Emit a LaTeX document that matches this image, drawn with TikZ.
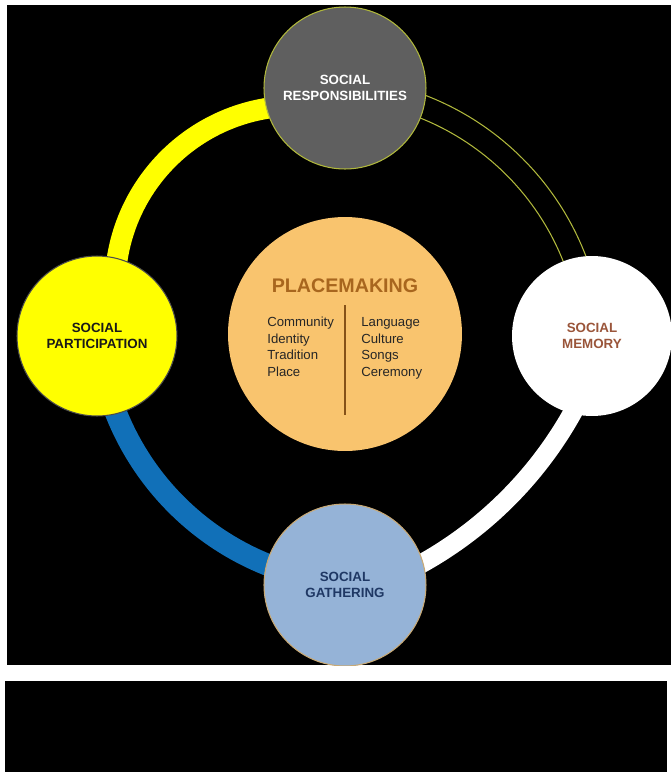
\documentclass[tikz,border=0pt]{standalone}
\usepackage{fontspec}
\setmainfont{Liberation Sans}
\definecolor{respgray}{HTML}{5F5F5F}
\definecolor{partyellow}{HTML}{FFFF00}
\definecolor{gathblue}{HTML}{95B3D7}
\definecolor{ringblue}{HTML}{1170B8}
\definecolor{placeorange}{HTML}{F9C46E}
\definecolor{placebrown}{HTML}{A8661E}
\definecolor{memorybrown}{HTML}{9A553A}
\definecolor{gathnavy}{HTML}{1F3864}
\definecolor{olivegreen}{HTML}{B0B83C}

\begin{document}
\begin{tikzpicture}[x=0.02cm, y=0.02cm,
    every node/.style={font=\bfseries\fontsize{7.6}{8.8}\selectfont, align=center},
    social/.style={circle, minimum size=3.24cm, inner sep=0pt},
    listtxt/.style={font=\fontsize{7.5}{9}\selectfont, anchor=base west, inner sep=0pt, text=black!85},
    band/.style={line cap=butt}]

\useasboundingbox (-345,-436) rectangle (326,336);
\fill[white] (-345,-436) rectangle (326,336);
\fill[black] (-338,-329) rectangle (326,331);
\fill[black] (-340,-345) rectangle (322,-436);

\begin{scope}
\clip (-338,-329) rectangle (326,331);
\coordinate (ycen) at (-49,49);
\coordinate (bcen) at (23.7,23.7);
\coordinate (wcen) at (-113.5,113.5);
\coordinate (ocen) at (-20.2,-20.2);

\draw[band, partyellow, line width=0.42cm] (ycen) ++(95:181) arc (95:175:181);
\draw[band, ringblue, line width=0.44cm] (bcen) ++(200:272) arc (200:250:272);
\draw[band, white, line width=0.38cm] (wcen) ++(-27:390.5) arc (-27:-63:390.5);
\draw[olivegreen, line width=0.6pt] (ocen) ++(18:256.6) arc (18:72:256.6);
\draw[olivegreen, line width=0.6pt] (ocen) ++(18:279.6) arc (18:72:279.6);

\node[social, fill=respgray, draw=olivegreen, line width=0.6pt, text=white] (resp) at (0,248) {SOCIAL\\RESPONSIBILITIES};
\node[social, fill=partyellow, draw=black!70, line width=0.6pt, minimum size=3.2cm, text=black!90] (part) at (-248,0) {SOCIAL\\PARTICIPATION};
\node[social, fill=white, minimum size=3.2cm, text=memorybrown] (mem) at (247,0) {SOCIAL\\MEMORY};
\node[social, fill=gathblue, draw=placeorange!60!gray, line width=0.6pt, text=gathnavy] (gath) at (0,-249) {SOCIAL\\GATHERING};

\node[circle, fill=placeorange, minimum size=4.68cm, inner sep=0pt] (place) at (0,2) {};
\node[anchor=base, inner sep=0pt, text=placebrown, font=\bfseries\fontsize{11.2}{12}\selectfont] (title) at (0,44) {PLACEMAKING};
\draw[placebrown!80!black, line width=0.6pt] (0,31) coordinate (divtop) -- (0,-79) coordinate (divbot);

\foreach \w [count=\i] in {Community,Identity,Tradition,Place}
  \node[listtxt] (left\i) at (-78,{9.3-(\i-1)*16.5}) {\w};
\foreach \w [count=\i] in {Language,Culture,Songs,Ceremony}
  \node[listtxt] (right\i) at (16,{9.3-(\i-1)*16.5}) {\w};
\end{scope}
\end{tikzpicture}
\end{document}
